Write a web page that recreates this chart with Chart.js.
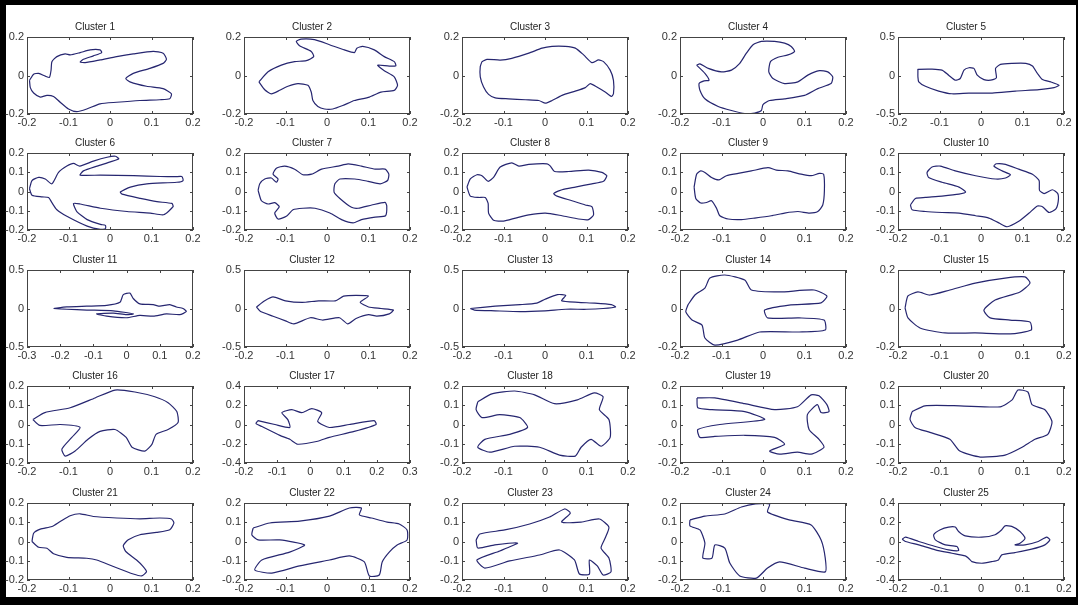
<!DOCTYPE html>
<html>
<head>
<meta charset="utf-8">
<title>Clusters</title>
<script src="https://cdn.jsdelivr.net/npm/chart.js@4.4.1/dist/chart.umd.min.js"></script>
<style>
  html, body { margin: 0; padding: 0; background: #fff; }
  #wrap { position: relative; width: 1078px; height: 605px; overflow: hidden; background: #fff; }
  #frame { position: absolute; left: 0; top: 0; width: 1078px; height: 605px; box-sizing: border-box;
           border-left: 6px solid #000; border-top: 5px solid #000; border-bottom: 8px solid #000; border-right: 2px solid #000; }
  canvas { position: absolute; }
</style>
</head>
<body>
<div id="wrap"><div id="frame"></div></div>
<script>
// outlines, [x, y] in axis units
const cluster1 = [[-0.194,-0.025],[-0.184,0.007],[-0.172,0.011],[-0.156,-0.003],[-0.146,-0.01],[-0.142,0.028],[-0.14,0.072],[-0.128,0.098],[-0.108,0.112],[-0.096,0.107],[-0.072,0.119],[-0.048,0.133],[-0.024,0.133],[-0.02,0.119],[-0.04,0.102],[-0.064,0.084],[-0.072,0.07],[-0.06,0.067],[-0.024,0.081],[0.016,0.098],[0.056,0.112],[0.104,0.125],[0.128,0.116],[0.136,0.084],[0.128,0.063],[0.096,0.037],[0.056,0.011],[0.038,-0.016],[0.048,-0.033],[0.088,-0.056],[0.128,-0.068],[0.148,-0.095],[0.144,-0.121],[0.12,-0.126],[0.072,-0.13],[0.016,-0.139],[-0.024,-0.147],[-0.056,-0.174],[-0.08,-0.188],[-0.1,-0.174],[-0.12,-0.139],[-0.136,-0.109],[-0.152,-0.103],[-0.168,-0.112],[-0.184,-0.091],[-0.192,-0.063]];
const cluster2 = [[-0.164,-0.033],[-0.142,0.019],[-0.11,0.054],[-0.078,0.072],[-0.05,0.077],[-0.032,0.098],[-0.038,0.125],[-0.066,0.154],[-0.074,0.177],[-0.062,0.189],[-0.03,0.186],[0.006,0.16],[0.042,0.133],[0.066,0.119],[0.072,0.142],[0.086,0.151],[0.114,0.133],[0.138,0.098],[0.162,0.072],[0.166,0.051],[0.15,0.049],[0.122,0.054],[0.138,0.025],[0.162,-0.007],[0.17,-0.051],[0.162,-0.077],[0.13,-0.086],[0.102,-0.112],[0.066,-0.13],[0.038,-0.156],[0.014,-0.174],[-0.006,-0.174],[-0.022,-0.161],[-0.034,-0.13],[-0.038,-0.086],[-0.046,-0.051],[-0.07,-0.042],[-0.094,-0.056],[-0.114,-0.077],[-0.134,-0.095],[-0.15,-0.074]];
const cluster3 = [[-0.152,0.072],[-0.14,0.084],[-0.108,0.08],[-0.08,0.089],[-0.039,0.116],[-0.007,0.142],[0.017,0.151],[0.049,0.151],[0.073,0.142],[0.093,0.107],[0.113,0.067],[0.129,0.081],[0.141,0.072],[0.157,0.028],[0.165,-0.025],[0.165,-0.095],[0.16,-0.109],[0.145,-0.086],[0.125,-0.06],[0.109,-0.042],[0.097,-0.063],[0.073,-0.081],[0.041,-0.103],[0.017,-0.13],[0.001,-0.144],[-0.015,-0.13],[-0.047,-0.126],[-0.088,-0.121],[-0.12,-0.116],[-0.136,-0.098],[-0.148,-0.06],[-0.156,-0.007],[-0.156,0.046]];
const cluster4 = [[-0.16,0.054],[-0.152,0.06],[-0.132,0.037],[-0.1,0.019],[-0.076,0.028],[-0.056,0.063],[-0.04,0.116],[-0.024,0.16],[-0.004,0.177],[0.028,0.177],[0.052,0.168],[0.068,0.151],[0.076,0.125],[0.06,0.107],[0.036,0.095],[0.018,0.072],[0.014,0.019],[0.024,-0.016],[0.052,-0.042],[0.084,-0.033],[0.108,0.002],[0.136,0.025],[0.156,0.019],[0.168,-0.007],[0.164,-0.042],[0.132,-0.068],[0.1,-0.103],[0.052,-0.121],[0.016,-0.13],[0,-0.151],[-0.004,-0.182],[-0.02,-0.195],[-0.044,-0.198],[-0.076,-0.182],[-0.108,-0.161],[-0.14,-0.121],[-0.152,-0.077],[-0.154,-0.042],[-0.142,-0.028],[-0.13,-0.025],[-0.14,0.011]];
const cluster5 = [[-0.152,0.07],[-0.152,0.079],[-0.118,0.083],[-0.094,0.07],[-0.078,0.004],[-0.062,-0.061],[-0.05,-0.039],[-0.041,0.07],[-0.029,0.101],[-0.017,0.092],[-0.009,0.004],[0.007,-0.053],[0.023,-0.061],[0.037,-0.031],[0.035,0.092],[0.047,0.145],[0.075,0.158],[0.108,0.158],[0.124,0.123],[0.136,0.026],[0.148,-0.053],[0.168,-0.083],[0.188,-0.127],[0.176,-0.158],[0.14,-0.184],[0.083,-0.202],[0.027,-0.228],[-0.029,-0.228],[-0.07,-0.237],[-0.102,-0.202],[-0.134,-0.14],[-0.15,-0.083],[-0.152,-0.018]];
const cluster6 = [[-0.194,0.014],[-0.188,0.057],[-0.172,0.073],[-0.156,0.065],[-0.14,0.04],[-0.124,0.099],[-0.104,0.132],[-0.088,0.146],[-0.073,0.132],[-0.04,0.158],[-0.007,0.178],[0.013,0.183],[0.021,0.17],[0.001,0.154],[-0.031,0.132],[-0.064,0.107],[-0.072,0.085],[-0.023,0.085],[0.057,0.082],[0.121,0.078],[0.157,0.077],[0.173,0.078],[0.176,0.057],[0.161,0.048],[0.089,0.04],[0.049,0.023],[0.025,-0.003],[0.029,-0.014],[0.073,-0.036],[0.113,-0.053],[0.149,-0.062],[0.152,-0.079],[0.129,-0.121],[0.097,-0.112],[0.041,-0.104],[-0.023,-0.087],[-0.072,-0.065],[-0.088,-0.062],[-0.08,-0.104],[-0.055,-0.146],[-0.023,-0.171],[-0.011,-0.176],[-0.011,-0.193],[-0.023,-0.197],[-0.055,-0.18],[-0.104,-0.129],[-0.128,-0.095],[-0.14,-0.058],[-0.148,-0.031],[-0.164,-0.028],[-0.188,-0.019]];
const cluster7 = [[-0.166,0.006],[-0.162,0.04],[-0.15,0.065],[-0.134,0.07],[-0.122,0.048],[-0.118,0.065],[-0.13,0.09],[-0.122,0.121],[-0.102,0.132],[-0.078,0.116],[-0.058,0.087],[-0.037,0.09],[-0.013,0.116],[0.027,0.132],[0.051,0.144],[0.083,0.132],[0.116,0.116],[0.14,0.116],[0.149,0.09],[0.146,0.057],[0.128,0.04],[0.099,0.053],[0.067,0.065],[0.031,0.065],[0.019,0.04],[0.017,-0.003],[0.031,-0.036],[0.059,-0.082],[0.075,-0.087],[0.108,-0.07],[0.14,-0.057],[0.144,-0.075],[0.141,-0.126],[0.116,-0.133],[0.083,-0.146],[0.063,-0.163],[0.035,-0.146],[0.007,-0.112],[-0.029,-0.087],[-0.058,-0.087],[-0.082,-0.095],[-0.098,-0.129],[-0.118,-0.143],[-0.126,-0.112],[-0.115,-0.079],[-0.126,-0.058],[-0.142,-0.065],[-0.158,-0.048]];
const cluster8 = [[-0.188,0.023],[-0.18,0.065],[-0.164,0.087],[-0.152,0.082],[-0.137,0.053],[-0.124,0.073],[-0.108,0.127],[-0.08,0.149],[-0.063,0.132],[-0.039,0.141],[0.005,0.144],[0.013,0.132],[0.023,0.104],[0.057,0.104],[0.105,0.111],[0.137,0.099],[0.149,0.082],[0.141,0.053],[0.113,0.04],[0.073,0.023],[0.041,0.009],[0.021,-0.011],[0.029,-0.024],[0.065,-0.048],[0.097,-0.07],[0.113,-0.079],[0.117,-0.121],[0.105,-0.146],[0.081,-0.143],[0.041,-0.126],[0.001,-0.112],[-0.039,-0.121],[-0.071,-0.138],[-0.1,-0.154],[-0.124,-0.149],[-0.136,-0.112],[-0.137,-0.062],[-0.144,-0.031],[-0.16,-0.031],[-0.18,-0.024]];
const cluster9 = [[-0.166,0.023],[-0.16,0.09],[-0.15,0.107],[-0.14,0.099],[-0.124,0.073],[-0.106,0.06],[-0.088,0.082],[-0.06,0.094],[-0.028,0.107],[0.012,0.124],[0.032,0.111],[0.06,0.107],[0.092,0.09],[0.116,0.082],[0.136,0.094],[0.146,0.09],[0.148,0.006],[0.144,-0.07],[0.132,-0.104],[0.112,-0.112],[0.084,-0.104],[0.052,-0.112],[0.02,-0.126],[-0.02,-0.138],[-0.052,-0.146],[-0.084,-0.143],[-0.104,-0.126],[-0.112,-0.087],[-0.124,-0.048],[-0.136,-0.057],[-0.15,-0.06],[-0.162,-0.036]];
const cluster10 = [[-0.17,-0.07],[-0.158,-0.036],[-0.134,-0.031],[-0.094,-0.024],[-0.053,-0.014],[-0.037,-0.003],[-0.053,0.023],[-0.094,0.048],[-0.126,0.073],[-0.13,0.099],[-0.118,0.127],[-0.098,0.132],[-0.062,0.107],[-0.013,0.082],[0.035,0.065],[0.059,0.07],[0.071,0.087],[0.051,0.107],[0.031,0.132],[0.037,0.144],[0.059,0.141],[0.091,0.116],[0.124,0.09],[0.14,0.057],[0.141,0.006],[0.152,-0.011],[0.172,0.009],[0.185,-0.011],[0.186,-0.053],[0.18,-0.092],[0.164,-0.109],[0.148,-0.079],[0.136,-0.075],[0.116,-0.112],[0.091,-0.155],[0.063,-0.183],[0.043,-0.163],[0.019,-0.138],[-0.013,-0.126],[-0.053,-0.112],[-0.094,-0.109],[-0.134,-0.104],[-0.166,-0.095]];
const cluster11 = [[-0.22,0],[-0.18,0.02],[-0.12,0.03],[-0.06,0.04],[-0.02,0.08],[-0.01,0.18],[0.01,0.2],[0.02,0.13],[0.04,0.06],[0.08,0.05],[0.1,0.03],[0.13,0.05],[0.15,0.02],[0.17,0],[0.18,-0.04],[0.16,-0.08],[0.12,-0.07],[0.08,-0.1],[0.04,-0.09],[0,-0.12],[-0.06,-0.1],[-0.09,-0.07],[-0.04,-0.06],[0,-0.08],[0.02,-0.07],[-0.04,-0.03],[-0.12,-0.02],[-0.18,-0.01]];
const cluster12 = [[-0.17,0.02],[-0.15,0.1],[-0.13,0.15],[-0.1,0.1],[-0.06,0.08],[-0.02,0.1],[0.02,0.1],[0.04,0.16],[0.07,0.17],[0.1,0.16],[0.08,0.08],[0.1,0.02],[0.13,0],[0.16,-0.02],[0.15,-0.07],[0.12,-0.1],[0.1,-0.08],[0.07,-0.13],[0.05,-0.2],[0.03,-0.12],[-0.01,-0.15],[-0.04,-0.12],[-0.08,-0.2],[-0.1,-0.16],[-0.13,-0.1],[-0.16,-0.04]];
const cluster13 = [[-0.18,0],[-0.12,0.03],[-0.06,0.05],[-0.02,0.07],[0.0,0.12],[0.03,0.18],[0.05,0.17],[0.04,0.1],[0.08,0.08],[0.12,0.07],[0.16,0.05],[0.17,0.02],[0.14,0],[0.1,-0.01],[0.05,-0.01],[0,-0.03],[-0.06,-0.04],[-0.12,-0.03],[-0.17,-0.02]];
const cluster14 = [[-0.181,0.018],[-0.164,0.07],[-0.14,0.106],[-0.128,0.158],[-0.092,0.174],[-0.044,0.148],[-0.028,0.096],[0.04,0.086],[0.123,0.096],[0.154,0.065],[0.14,0.029],[0.063,0.018],[0.004,-0.008],[0.011,-0.049],[0.087,-0.049],[0.147,-0.06],[0.15,-0.112],[0.087,-0.122],[-0.008,-0.122],[-0.061,-0.164],[-0.116,-0.19],[-0.14,-0.153],[-0.147,-0.086],[-0.171,-0.06],[-0.186,-0.018]];
const cluster15 = [[-0.183,0.003],[-0.176,0.065],[-0.152,0.086],[-0.123,0.07],[-0.075,0.096],[-0.014,0.132],[0.058,0.158],[0.106,0.164],[0.118,0.132],[0.094,0.086],[0.034,0.044],[0.007,-0.008],[0.022,-0.049],[0.07,-0.06],[0.118,-0.07],[0.121,-0.112],[0.07,-0.132],[-0.014,-0.127],[-0.087,-0.127],[-0.147,-0.101],[-0.176,-0.049]];
const cluster16 = [[-0.186,0.026],[-0.157,0.062],[-0.096,0.087],[-0.036,0.138],[0.012,0.179],[0.06,0.169],[0.108,0.144],[0.14,0.113],[0.161,0.067],[0.164,0.01],[0.14,-0.026],[0.111,-0.051],[0.101,-0.103],[0.084,-0.138],[0.053,-0.118],[0.039,-0.067],[0.012,-0.026],[-0.024,-0.036],[-0.053,-0.077],[-0.084,-0.138],[-0.108,-0.164],[-0.116,-0.128],[-0.092,-0.067],[-0.072,-0.015],[-0.12,0],[-0.169,-0.005]];
const cluster17 = [[-0.158,0.041],[-0.107,0],[-0.062,-0.031],[-0.068,0.051],[-0.086,0.123],[-0.056,0.154],[-0.026,0.123],[0.004,0.164],[0.034,0.123],[0.022,0.031],[0.057,-0.031],[0.117,0],[0.192,0.041],[0.198,0],[0.132,-0.072],[0.057,-0.133],[0.022,-0.174],[-0.038,-0.205],[-0.062,-0.154],[-0.092,-0.113],[-0.146,-0.021],[-0.164,0.01]];
const cluster18 = [[-0.162,0.118],[-0.128,0.159],[-0.073,0.174],[-0.025,0.154],[0.023,0.108],[0.078,0.128],[0.119,0.164],[0.14,0.144],[0.131,0.077],[0.154,0.026],[0.157,-0.067],[0.135,-0.113],[0.111,-0.077],[0.087,-0.118],[0.073,-0.164],[0.035,-0.159],[-0.013,-0.118],[-0.073,-0.113],[-0.133,-0.144],[-0.162,-0.118],[-0.145,-0.077],[-0.085,-0.051],[-0.042,-0.015],[-0.061,0.036],[-0.109,0.051],[-0.152,0.036],[-0.166,0.077]];
const cluster19 = [[-0.159,0.138],[-0.116,0.138],[-0.044,0.108],[0.028,0.077],[0.083,0.092],[0.116,0.154],[0.135,0.149],[0.154,0.103],[0.159,0.067],[0.14,0.062],[0.131,0.103],[0.107,0.051],[0.111,-0.026],[0.135,-0.077],[0.147,-0.118],[0.116,-0.154],[0.083,-0.144],[0.04,-0.154],[0.016,-0.138],[0.052,-0.103],[0.028,-0.067],[-0.044,-0.056],[-0.116,-0.062],[-0.152,-0.067],[-0.157,-0.026],[-0.104,0],[0.004,0.026],[-0.044,0.067],[-0.123,0.077],[-0.157,0.087]];
const cluster20 = [[-0.166,0.067],[-0.135,0.097],[-0.051,0.097],[0.046,0.092],[0.075,0.128],[0.089,0.179],[0.113,0.169],[0.123,0.103],[0.154,0.077],[0.171,0.015],[0.161,-0.051],[0.13,-0.077],[0.099,-0.118],[0.058,-0.159],[-0.002,-0.169],[-0.051,-0.138],[-0.075,-0.077],[-0.123,-0.041],[-0.159,-0.015],[-0.171,0.026]];
const cluster21 = [[-0.188,0],[-0.184,0.043],[-0.168,0.064],[-0.14,0.078],[-0.12,0.104],[-0.096,0.134],[-0.072,0.144],[-0.04,0.13],[0.016,0.122],[0.072,0.118],[0.12,0.122],[0.148,0.117],[0.154,0.096],[0.144,0.061],[0.112,0.047],[0.072,0.035],[0.044,0.009],[0.032,-0.021],[0.038,-0.052],[0.064,-0.096],[0.08,-0.13],[0.088,-0.157],[0.076,-0.179],[0.056,-0.169],[0.008,-0.13],[-0.032,-0.096],[-0.056,-0.087],[-0.104,-0.082],[-0.136,-0.064],[-0.152,-0.035],[-0.172,-0.03]];
const cluster22 = [[-0.178,0.07],[-0.138,0.096],[-0.066,0.106],[0.006,0.132],[0.054,0.174],[0.083,0.174],[0.078,0.138],[0.107,0.122],[0.145,0.101],[0.174,0.091],[0.193,0.06],[0.193,0.008],[0.169,-0.018],[0.15,-0.055],[0.133,-0.106],[0.126,-0.174],[0.102,-0.179],[0.09,-0.106],[0.054,-0.075],[0.006,-0.096],[-0.066,-0.127],[-0.133,-0.164],[-0.174,-0.148],[-0.157,-0.096],[-0.09,-0.055],[-0.054,-0.018],[-0.114,0.008],[-0.166,0.008],[-0.181,0.034]];
const cluster23 = [[-0.166,0.008],[-0.157,0.039],[-0.097,0.06],[-0.037,0.091],[0.011,0.127],[0.047,0.169],[0.061,0.148],[0.04,0.101],[0.087,0.101],[0.131,0.117],[0.154,0.075],[0.145,0.018],[0.135,-0.034],[0.154,-0.086],[0.159,-0.158],[0.14,-0.174],[0.126,-0.127],[0.107,-0.096],[0.107,-0.169],[0.083,-0.169],[0.071,-0.096],[0.035,-0.044],[-0.013,-0.07],[-0.085,-0.101],[-0.145,-0.138],[-0.164,-0.096],[-0.109,-0.049],[-0.066,-0.008],[-0.121,-0.018],[-0.162,-0.034]];
const cluster24 = [[-0.176,0.112],[-0.14,0.132],[-0.092,0.143],[-0.052,0.179],[-0.018,0.195],[0.016,0.195],[0.011,0.153],[0.063,0.112],[0.116,0.086],[0.14,0.008],[0.15,-0.086],[0.15,-0.158],[0.1,-0.138],[0.04,-0.106],[0.011,-0.138],[-0.016,-0.19],[-0.056,-0.179],[-0.08,-0.112],[-0.092,-0.034],[-0.116,-0.018],[-0.123,-0.086],[-0.145,-0.086],[-0.14,-0.008],[-0.152,0.06],[-0.176,0.081]];
const cluster25 = [[-0.19,0.024],[-0.182,0.045],[-0.15,0],[-0.11,-0.052],[-0.078,-0.087],[-0.054,-0.094],[-0.058,-0.052],[-0.086,-0.035],[-0.11,0.017],[-0.114,0.07],[-0.098,0.122],[-0.078,0.15],[-0.062,0.15],[-0.054,0.104],[-0.038,0.059],[0.002,0.045],[0.034,0.07],[0.05,0.122],[0.058,0.163],[0.074,0.157],[0.094,0.104],[0.106,0.035],[0.094,-0.017],[0.082,-0.035],[0.106,-0.035],[0.138,0],[0.158,0.045],[0.166,0.017],[0.154,-0.035],[0.122,-0.08],[0.082,-0.115],[0.05,-0.139],[0.042,-0.191],[0.026,-0.209],[0.002,-0.226],[-0.022,-0.209],[-0.03,-0.174],[-0.038,-0.15],[-0.07,-0.122],[-0.11,-0.087],[-0.15,-0.035],[-0.182,0]];

const shapes = [cluster1, cluster2, cluster3, cluster4, cluster5, cluster6, cluster7, cluster8, cluster9, cluster10,
  cluster11, cluster12, cluster13, cluster14, cluster15, cluster16, cluster17, cluster18, cluster19, cluster20,
  cluster21, cluster22, cluster23, cluster24, cluster25];

// tick label sets
const xTicksStd = [-0.2, -0.1, 0, 0.1, 0.2];
const xTicksLeft = [-0.3, -0.2, -0.1, 0, 0.1, 0.2];
const xTicksRight = [-0.2, -0.1, 0, 0.1, 0.2, 0.3];
const yTicksCoarse = [-0.2, 0, 0.2];
const yTicksFine = [-0.2, -0.1, 0, 0.1, 0.2];
const yTicksHalf = [-0.5, 0, 0.5];
const yTicksWide = [-0.4, -0.2, 0, 0.2, 0.4];

const panelX = [xTicksStd, xTicksStd, xTicksStd, xTicksStd, xTicksStd,
  xTicksStd, xTicksStd, xTicksStd, xTicksStd, xTicksStd,
  xTicksLeft, xTicksStd, xTicksStd, xTicksStd, xTicksStd,
  xTicksStd, xTicksRight, xTicksStd, xTicksStd, xTicksStd,
  xTicksStd, xTicksStd, xTicksStd, xTicksStd, xTicksStd];
const panelY = [yTicksCoarse, yTicksCoarse, yTicksCoarse, yTicksCoarse, yTicksHalf,
  yTicksFine, yTicksFine, yTicksFine, yTicksFine, yTicksFine,
  yTicksHalf, yTicksHalf, yTicksHalf, yTicksCoarse, yTicksCoarse,
  yTicksFine, yTicksWide, yTicksFine, yTicksFine, yTicksFine,
  yTicksFine, yTicksFine, yTicksFine, yTicksFine, yTicksWide];

// layout of the 5x5 grid (axes boxes)
const colLeft = [27, 244, 462, 680, 898];
const rowTop = [37, 153, 270, 386, 503];
const BOX_W = 166, BOX_H = 77;
const PAD_L = 30, PAD_T = 22, PAD_B = 16, PAD_R = 12;
const FONT = '"Liberation Sans", Arial, sans-serif';

const boxPlugin = {
  id: 'matlabBox',
  afterDraw(chart) {
    const { ctx, chartArea: a, scales } = chart;
    const x = scales.x, y = scales.y;
    ctx.save();
    ctx.strokeStyle = '#444';
    ctx.lineWidth = 1;
    ctx.strokeRect(Math.round(a.left) + 0.5, Math.round(a.top) + 0.5, Math.round(a.width) - 1, Math.round(a.height) - 1);
    ctx.beginPath();
    x.ticks.forEach(t => {
      const px = Math.round(x.getPixelForValue(t.value)) + 0.5;
      ctx.moveTo(px, a.bottom); ctx.lineTo(px, a.bottom - 3);
      ctx.moveTo(px, a.top); ctx.lineTo(px, a.top + 3);
    });
    y.ticks.forEach(t => {
      const py = Math.round(y.getPixelForValue(t.value)) + 0.5;
      ctx.moveTo(a.left, py); ctx.lineTo(a.left + 3, py);
      ctx.moveTo(a.right, py); ctx.lineTo(a.right - 3, py);
    });
    ctx.stroke();
    ctx.restore();
  }
};

function makeAxis(ticks, isX) {
  return {
    type: 'linear',
    min: ticks[0],
    max: ticks[ticks.length - 1],
    grid: { display: false, drawTicks: false },
    border: { display: false },
    afterBuildTicks: s => { s.ticks = ticks.map(v => ({ value: v })); },
    afterFit: s => {
      if (isX) { s.height = PAD_B; s.paddingLeft = 0; s.paddingRight = 0; }
      else { s.width = PAD_L; s.paddingTop = 0; s.paddingBottom = 0; }
    },
    ticks: {
      color: '#333',
      font: { family: FONT, size: 11 },
      padding: isX ? 2 : 3,
      autoSkip: false,
      maxRotation: 0,
      callback: v => String(v)
    }
  };
}

const wrap = document.getElementById('wrap');

shapes.forEach((pts, i) => {
  const col = i % 5, row = Math.floor(i / 5);
  const canvas = document.createElement('canvas');
  canvas.width = PAD_L + BOX_W + PAD_R;
  canvas.height = PAD_T + BOX_H + PAD_B;
  canvas.style.left = (colLeft[col] - PAD_L) + 'px';
  canvas.style.top = (rowTop[row] - PAD_T) + 'px';
  wrap.appendChild(canvas);

  const data = pts.map(p => ({ x: p[0], y: p[1] }));
  data.push({ x: pts[0][0], y: pts[0][1] });

  new Chart(canvas, {
    type: 'scatter',
    data: {
      datasets: [{
        data: data,
        showLine: true,
        borderColor: '#262670',
        borderWidth: 1.2,
        pointRadius: 0,
        tension: 0.2,
        fill: false
      }]
    },
    options: {
      responsive: false,
      animation: false,
      devicePixelRatio: 1,
      layout: { padding: { left: 0, right: PAD_R, top: 0, bottom: 0 } },
      plugins: {
        legend: { display: false },
        tooltip: { enabled: false },
        title: {
          display: true,
          text: 'Cluster ' + (i + 1),
          color: '#222',
          font: { family: FONT, size: 10, weight: 'normal' },
          padding: { top: 6, bottom: 4 }
        }
      },
      scales: {
        x: makeAxis(panelX[i], true),
        y: makeAxis(panelY[i], false)
      }
    },
    plugins: [boxPlugin]
  });
});
</script>
</body>
</html>
